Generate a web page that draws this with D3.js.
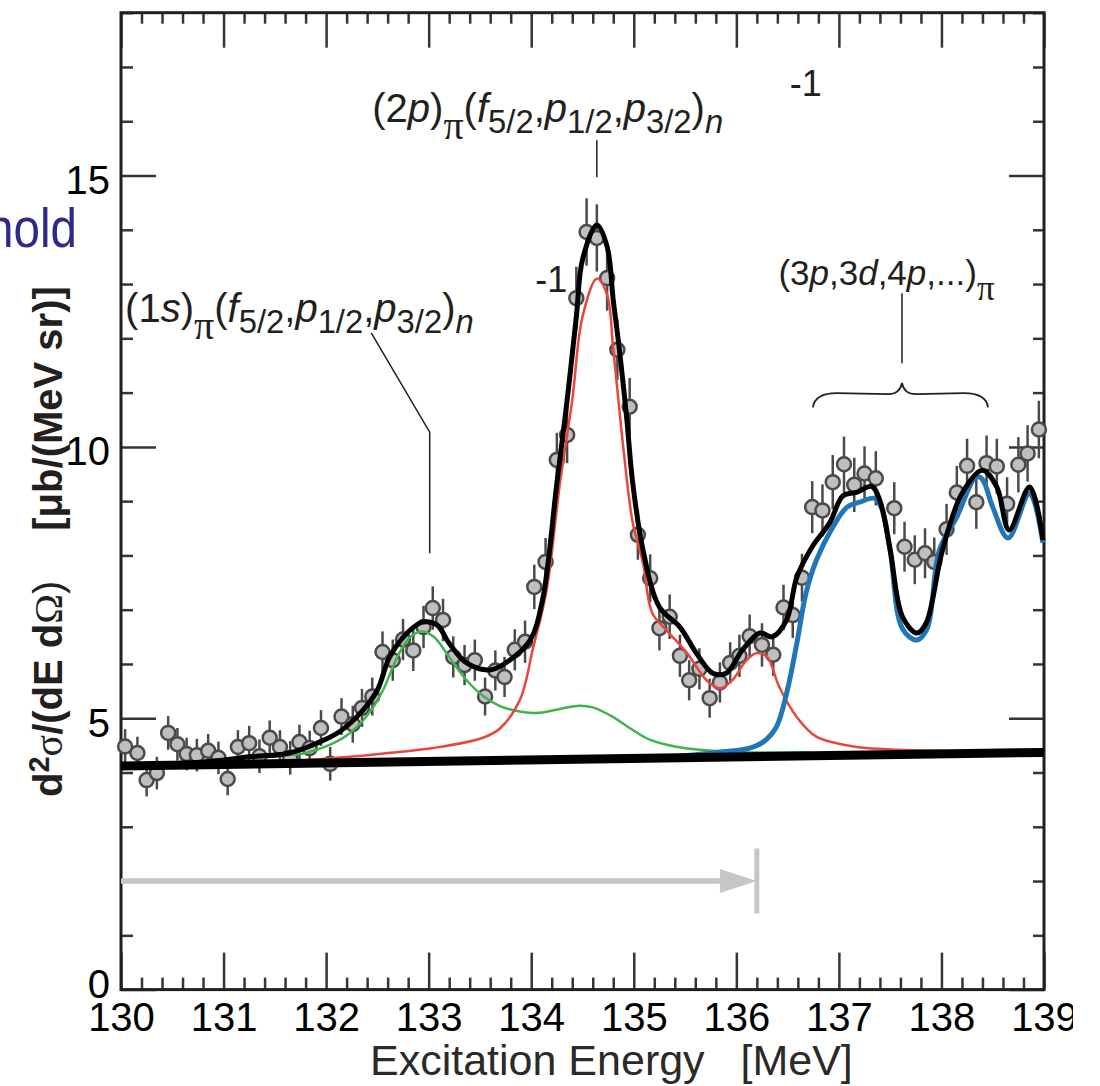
<!DOCTYPE html>
<html>
<head>
<meta charset="utf-8">
<style>
  body { margin: 0; background: #fff; }
  svg { display: block; }
  text { font-family: "Liberation Sans", Arial, sans-serif; }
</style>
</head>
<body>
<script src="https://cdn.jsdelivr.net/npm/d3@7"></script>
<script>
// tick labels
var xTicks = [130, 131, 132, 133, 134, 135, 136, 137, 138, 139];
var yTicks = [0, 5, 10, 15];

// measured spectrum (excitation energy, cross section, error)
var dataE = [130.04, 130.16, 130.25, 130.35, 130.46, 130.55, 130.64, 130.74, 130.85, 130.95,
  131.04, 131.14, 131.25, 131.35, 131.45, 131.55, 131.65, 131.74, 131.84, 131.95,
  132.04, 132.15, 132.26, 132.35, 132.45, 132.55, 132.65, 132.75, 132.85, 132.95,
  133.04, 133.14, 133.24, 133.35, 133.45, 133.55, 133.65, 133.74, 133.84, 133.94,
  134.03, 134.14, 134.25, 134.35, 134.44, 134.54, 134.64, 134.74, 134.84, 134.96,
  135.04, 135.16, 135.25, 135.35, 135.45, 135.54, 135.64, 135.74, 135.84, 135.94,
  136.03, 136.13, 136.25, 136.36, 136.46, 136.55, 136.64, 136.74, 136.84, 136.94,
  137.05, 137.15, 137.25, 137.36, 137.54, 137.64, 137.74, 137.84, 137.93, 138.05,
  138.15, 138.25, 138.34, 138.44, 138.54, 138.64, 138.75, 138.84, 138.95];
var dataY = [4.48, 4.36, 3.86, 3.99, 4.73, 4.52, 4.34, 4.32, 4.40, 4.27,
  3.88, 4.47, 4.54, 4.30, 4.64, 4.47, 4.27, 4.56, 4.45, 4.82,
  4.16, 5.03, 4.89, 5.19, 5.40, 6.22, 6.07, 6.45, 6.25, 6.68,
  7.03, 6.81, 6.13, 5.98, 6.07, 5.40, 5.88, 5.76, 6.26, 6.41,
  7.42, 7.88, 9.76, 10.22, 12.74, 13.96, 13.85, 13.11, 11.79, 10.74,
  8.38, 7.58, 6.66, 6.87, 6.15, 5.70, 5.91, 5.37, 5.66, 6.02,
  6.15, 6.51, 6.35, 6.17, 7.04, 6.90, 7.59, 8.89, 8.83, 9.35,
  9.68, 9.30, 9.51, 9.42, 8.87, 8.16, 7.92, 8.04, 7.88, 8.48,
  9.16, 9.65, 8.98, 9.70, 9.64, 8.95, 9.67, 9.88, 10.32];
var dataErr = [0.32, 0.30, 0.30, 0.30, 0.31, 0.30, 0.30, 0.30, 0.31, 0.30,
  0.30, 0.31, 0.32, 0.31, 0.32, 0.31, 0.31, 0.32, 0.32, 0.33,
  0.31, 0.34, 0.34, 0.35, 0.35, 0.38, 0.38, 0.38, 0.38, 0.39,
  0.40, 0.39, 0.38, 0.37, 0.38, 0.35, 0.37, 0.37, 0.38, 0.39,
  0.41, 0.44, 0.50, 0.52, 0.58, 0.62, 0.62, 0.60, 0.56, 0.53,
  0.46, 0.44, 0.41, 0.41, 0.39, 0.37, 0.38, 0.36, 0.37, 0.38,
  0.39, 0.40, 0.40, 0.39, 0.42, 0.42, 0.44, 0.48, 0.48, 0.50,
  0.51, 0.50, 0.50, 0.50, 0.48, 0.46, 0.45, 0.46, 0.45, 0.47,
  0.49, 0.50, 0.49, 0.51, 0.51, 0.49, 0.51, 0.52, 0.53];

// background (straight line)
var bgE = [130, 139];
var bgY = [4.12, 4.37];

// (1s) component
var greenE = [130.3, 131.0, 131.5, 131.8, 132.0, 132.2, 132.4, 132.55, 132.7, 132.82, 132.94, 133.05,
  133.2, 133.37, 133.55, 133.7, 133.9, 134.08, 134.3, 134.47, 134.6, 134.8, 134.96, 135.16,
  135.4, 135.64, 135.96, 136.72];
var greenY = [4.15, 4.24, 4.30, 4.36, 4.48, 4.68, 5.05, 5.50, 6.15, 6.50, 6.60, 6.50,
  6.13, 5.70, 5.38, 5.22, 5.12, 5.10, 5.18, 5.23, 5.20, 5.02, 4.82, 4.60,
  4.48, 4.42, 4.38, 4.37];

// (2p) component
var redE = [131.6, 132.4, 133.04, 133.53, 133.7, 133.89, 134.02, 134.15, 134.28, 134.4, 134.5,
  134.64, 134.74, 134.8, 134.9, 134.99, 135.09, 135.18, 135.32, 135.52, 135.71, 135.84, 135.96,
  136.1, 136.2, 136.3, 136.42, 136.59, 136.78, 136.98, 137.27, 137.59, 138.01];
var redY = [4.20, 4.32, 4.45, 4.64, 4.82, 5.34, 6.31, 7.36, 9.33, 10.86, 12.4,
  13.1, 12.8, 11.8, 9.95, 8.6, 7.86, 6.94, 6.62, 6.2, 5.7, 5.55, 5.7,
  6.07, 6.2, 6.13, 5.57, 5.02, 4.66, 4.54, 4.45, 4.42, 4.40];

// (3p,3d,4p,...) component
var blueE = [135.2, 135.5, 135.8, 136.13, 136.26, 136.39, 136.49, 136.59, 136.68, 136.78, 136.94,
  137.08, 137.2, 137.35, 137.42, 137.5, 137.62, 137.76, 137.86, 137.98, 138.15, 138.34, 138.4,
  138.5, 138.65, 138.86, 138.99];
var blueY = [4.25, 4.31, 4.37, 4.45, 4.56, 4.84, 5.46, 6.38, 7.31, 7.91, 8.52,
  8.89, 8.98, 9.05, 8.85, 8.1, 6.65, 6.44, 6.65, 8.1, 8.71, 9.45, 9.4,
  8.89, 8.32, 9.14, 8.23];

// total fit
var totalE = [130.0, 130.77, 131.26, 131.62, 131.91, 132.13, 132.36, 132.5, 132.62, 132.79, 132.94,
  133.08, 133.2, 133.37, 133.6, 133.79, 133.99, 134.11, 134.25, 134.35, 134.44, 134.5, 134.64,
  134.74, 134.8, 134.86, 134.93, 134.99, 135.09, 135.25, 135.45, 135.61, 135.77, 135.9, 136.06,
  136.23, 136.35, 136.49, 136.59, 136.74, 136.91, 137.04, 137.17, 137.32, 137.4, 137.5, 137.62,
  137.76, 137.85, 138.01, 138.2, 138.4, 138.54, 138.66, 138.86, 138.99];
var totalY = [4.14, 4.19, 4.29, 4.35, 4.54, 4.75, 5.15, 5.52, 6.13, 6.57, 6.77,
  6.72, 6.38, 6.02, 5.89, 6.07, 6.44, 7.18, 9.33, 10.86, 12.4, 13.45, 14.09,
  13.69, 12.7, 11.79, 10.55, 9.33, 8.1, 7.05, 6.68, 6.2, 5.83, 5.83, 6.26,
  6.57, 6.5, 6.81, 7.6, 8.16, 8.6, 9.1, 9.16, 9.27, 9.01, 8.1, 6.87,
  6.57, 6.75, 8.1, 9.14, 9.57, 9.26, 8.47, 9.26, 8.28];

var W = 1100, H = 1086;
var ink = "#231f20";

var svg = d3.select("body").append("svg")
    .attr("width", W)
    .attr("height", H);

svg.append("clipPath").attr("id", "page")
  .append("rect").attr("x", 0).attr("y", 0).attr("width", 1073).attr("height", H);
var root = svg.append("g").attr("clip-path", "url(#page)");

var x = d3.scaleLinear().domain([130, 139]).range([121, 1044]);
var y = d3.scaleLinear().domain([0, 18]).range([989.6, 12.7]);

function zip(a, b) { return a.map(function(v, i) { return [v, b[i]]; }); }

// ---- axes (ticks on all four sides, pointing inward)
var xMinor = d3.range(130, 139.001, 0.2).filter(function(d) { return Math.abs(d - Math.round(d)) > 0.01; });
var yMinor = d3.range(0, 18.001, 1).filter(function(d) { return d % 5 != 0; });

function addAxis(axis, tx, ty, labels) {
  var g = root.append("g")
      .attr("transform", "translate(" + tx + "," + ty + ")")
      .call(axis);
  g.select(".domain").remove();
  g.selectAll(".tick line").attr("stroke", "#3a3336").attr("stroke-width", 2.5);
  if (labels) {
    g.selectAll(".tick text").attr("font-size", 40).attr("fill", "#000")
      .attr("font-family", "Liberation Sans, Arial, sans-serif");
  } else {
    g.selectAll(".tick text").remove();
  }
  return g;
}

addAxis(d3.axisBottom(x).tickValues(xTicks).tickSize(-37).tickPadding(13).tickFormat(d3.format("d")), 0, y(0), true);
addAxis(d3.axisBottom(x).tickValues(xMinor).tickSize(-12), 0, y(0), false);
addAxis(d3.axisTop(x).tickValues(xTicks).tickSize(-35), 0, y(18), false);
addAxis(d3.axisTop(x).tickValues(xMinor).tickSize(-11), 0, y(18), false);

var yl = addAxis(d3.axisLeft(y).tickValues(yTicks).tickSize(-35).tickPadding(11), x(130), 0, true);
yl.selectAll(".tick text").attr("dy", function(d) { return d == 0 ? "0.2em" : "0.45em"; });
addAxis(d3.axisLeft(y).tickValues(yMinor).tickSize(-12), x(130), 0, false);
addAxis(d3.axisRight(y).tickValues(yTicks).tickSize(-35), x(139), 0, false);
addAxis(d3.axisRight(y).tickValues(yMinor).tickSize(-11), x(139), 0, false);

// frame
root.append("rect")
    .attr("x", x(130)).attr("y", y(18))
    .attr("width", x(139) - x(130)).attr("height", y(0) - y(18))
    .attr("fill", "none").attr("stroke", ink).attr("stroke-width", 3);

// ---- threshold arrow (grey)
var arrowY = 2.0, arrowEnd = 136.2, headLen = 0.36, headHalf = 0.22, barHalf = 0.6;
root.append("line")
    .attr("x1", x(130)).attr("x2", x(arrowEnd - headLen))
    .attr("y1", y(arrowY)).attr("y2", y(arrowY))
    .attr("stroke", "#c6c6c6").attr("stroke-width", 5.5);
root.append("path")
    .attr("d", "M" + x(arrowEnd - headLen) + "," + y(arrowY + headHalf) +
               "L" + x(arrowEnd) + "," + y(arrowY) +
               "L" + x(arrowEnd - headLen) + "," + y(arrowY - headHalf) + "Z")
    .attr("fill", "#c6c6c6");
root.append("line")
    .attr("x1", x(arrowEnd)).attr("x2", x(arrowEnd))
    .attr("y1", y(arrowY + barHalf)).attr("y2", y(arrowY - barHalf))
    .attr("stroke", "#c6c6c6").attr("stroke-width", 5);

// ---- data points with error bars
var pts = dataE.map(function(e, i) { return { e: e, v: dataY[i], s: dataErr[i] }; });
var pg = root.append("g");
pg.selectAll("line.err").data(pts).enter().append("line")
    .attr("class", "err")
    .attr("x1", function(d) { return x(d.e); })
    .attr("x2", function(d) { return x(d.e); })
    .attr("y1", function(d) { return y(d.v - d.s); })
    .attr("y2", function(d) { return y(d.v + d.s); })
    .attr("stroke", "#4a4a4a").attr("stroke-width", 2.5);
pg.selectAll("circle").data(pts).enter().append("circle")
    .attr("cx", function(d) { return x(d.e); })
    .attr("cy", function(d) { return y(d.v); })
    .attr("r", 7)
    .attr("fill", "#bfbfbf").attr("stroke", "#4a4a4a").attr("stroke-width", 2.5);

// ---- fit curves
var line = d3.line()
    .x(function(d) { return x(d[0]); })
    .y(function(d) { return y(d[1]); })
    .curve(d3.curveCatmullRom.alpha(0.5));

function curve(es, vs, color, width) {
  root.append("path")
      .datum(zip(es, vs))
      .attr("d", line)
      .attr("fill", "none")
      .attr("stroke", color)
      .attr("stroke-width", width)
      .attr("stroke-linejoin", "round");
}

curve(greenE, greenY, "#3db54a", 2.5);
curve(redE, redY, "#e8473b", 2.5);
curve(blueE, blueY, "#2176b8", 5);
curve(bgE, bgY, "#000", 9);
curve(totalE, totalY, "#000", 5);

// ---- annotations
// parts: [text, kind]  kind: n normal, i italic, s subscript, si subscript italic, g greek subscript
function rich(px, py, size, parts) {
  var t = root.append("text")
      .attr("x", px).attr("y", py)
      .attr("font-size", size)
      .attr("fill", ink);
  var shift = 0;
  parts.forEach(function(p) {
    var kind = p[1];
    var want = 0;
    var ts = t.append("tspan").text(p[0]);
    if (kind == "i" || kind == "si") ts.attr("font-style", "italic");
    if (kind == "s" || kind == "si") { want = size * 0.28; ts.attr("font-size", size * 0.82); }
    if (kind == "g") {
      want = size * 0.42;
      ts.attr("font-family", "Liberation Serif, serif").attr("font-size", size * 1.0);
    }
    ts.attr("dy", want - shift);
    shift = want;
  });
  return t;
}

var orbitals = [["(", "n"], ["f", "i"], ["5/2", "s"], [",", "n"], ["p", "i"], ["1/2", "s"],
                [",", "n"], ["p", "i"], ["3/2", "s"], [")", "n"], ["n", "si"]];

rich(x(132.45), y(15.99), 40, [["(2", "n"], ["p", "i"], [")", "n"], ["π", "g"]].concat(orbitals));
rich(x(130.04), y(12.3), 40, [["(1", "n"], ["s", "i"], [")", "n"], ["π", "g"]].concat(orbitals));
rich(x(136.41), y(12.98), 35, [["(3", "n"], ["p", "i"], [",3", "n"], ["d", "i"], [",4", "n"],
                               ["p", "i"], [",...)", "n"], ["π", "g"]]);

root.append("text").attr("x", x(136.52)).attr("y", y(16.47))
    .attr("font-size", 36).attr("fill", ink).text("-1");
root.append("text").attr("x", x(134.04)).attr("y", y(12.85))
    .attr("font-size", 36).attr("fill", ink).text("-1");

// leader lines
var leaders = [
  [[134.64, 15.65], [134.64, 14.97]],
  [[132.44, 12.10], [133.01, 10.27], [133.01, 8.04]],
  [[137.615, 12.83], [137.615, 11.54]]
];
leaders.forEach(function(l) {
  root.append("path")
      .datum(l)
      .attr("d", d3.line().x(function(d) { return x(d[0]); }).y(function(d) { return y(d[1]); }))
      .attr("fill", "none").attr("stroke", ink).attr("stroke-width", 1.5);
});

// curly brace over the (3p,3d,4p,...) region
var bL = 136.747, bR = 138.454, bC = 137.615, bEnd = 10.73, bArm = 10.99, bTip = 11.18;
var brace = d3.path();
brace.moveTo(x(bL), y(bEnd));
brace.quadraticCurveTo(x(bL) + 2, y(bArm), x(bL) + 24, y(bArm));
brace.lineTo(x(bC) - 14, y(bArm) + 1);
brace.quadraticCurveTo(x(bC) - 2, y(bArm) + 1, x(bC), y(bTip));
brace.quadraticCurveTo(x(bC) + 2, y(bArm) + 1, x(bC) + 14, y(bArm) + 1);
brace.lineTo(x(bR) - 24, y(bArm));
brace.quadraticCurveTo(x(bR) - 2, y(bArm), x(bR), y(bEnd));
root.append("path").attr("d", brace.toString())
    .attr("fill", "none").attr("stroke", ink).attr("stroke-width", 1.8);

// "threshold" label, cut off at the left edge
root.append("text")
    .attr("transform", "translate(77,247) scale(0.85,1)")
    .attr("text-anchor", "end")
    .attr("font-size", 56)
    .attr("fill", "#2e2a86")
    .text("threshold");

// ---- axis titles
root.append("text")
    .attr("x", 370).attr("y", 1075)
    .attr("font-size", 43)
    .attr("fill", "#2b2a29")
    .attr("xml:space", "preserve")
    .text("Excitation Energy   [MeV]");

var yt = root.append("text")
    .attr("transform", "translate(62,797) rotate(-90)")
    .attr("font-size", 40)
    .attr("fill", ink);
yt.append("tspan").attr("font-weight", "bold").text("d");
yt.append("tspan").attr("font-weight", "bold").attr("font-size", 29).attr("dy", -13).text("2");
yt.append("tspan").attr("font-family", "Liberation Serif, serif").attr("dy", 13).text("σ");
yt.append("tspan").attr("font-weight", "bold").text("/(dE d");
yt.append("tspan").attr("font-family", "Liberation Serif, serif").text("Ω");
yt.append("tspan").text(")");
yt.append("tspan").attr("font-weight", "bold").attr("dx", 50).text("[μb/(MeV sr)]");
</script>
</body>
</html>
